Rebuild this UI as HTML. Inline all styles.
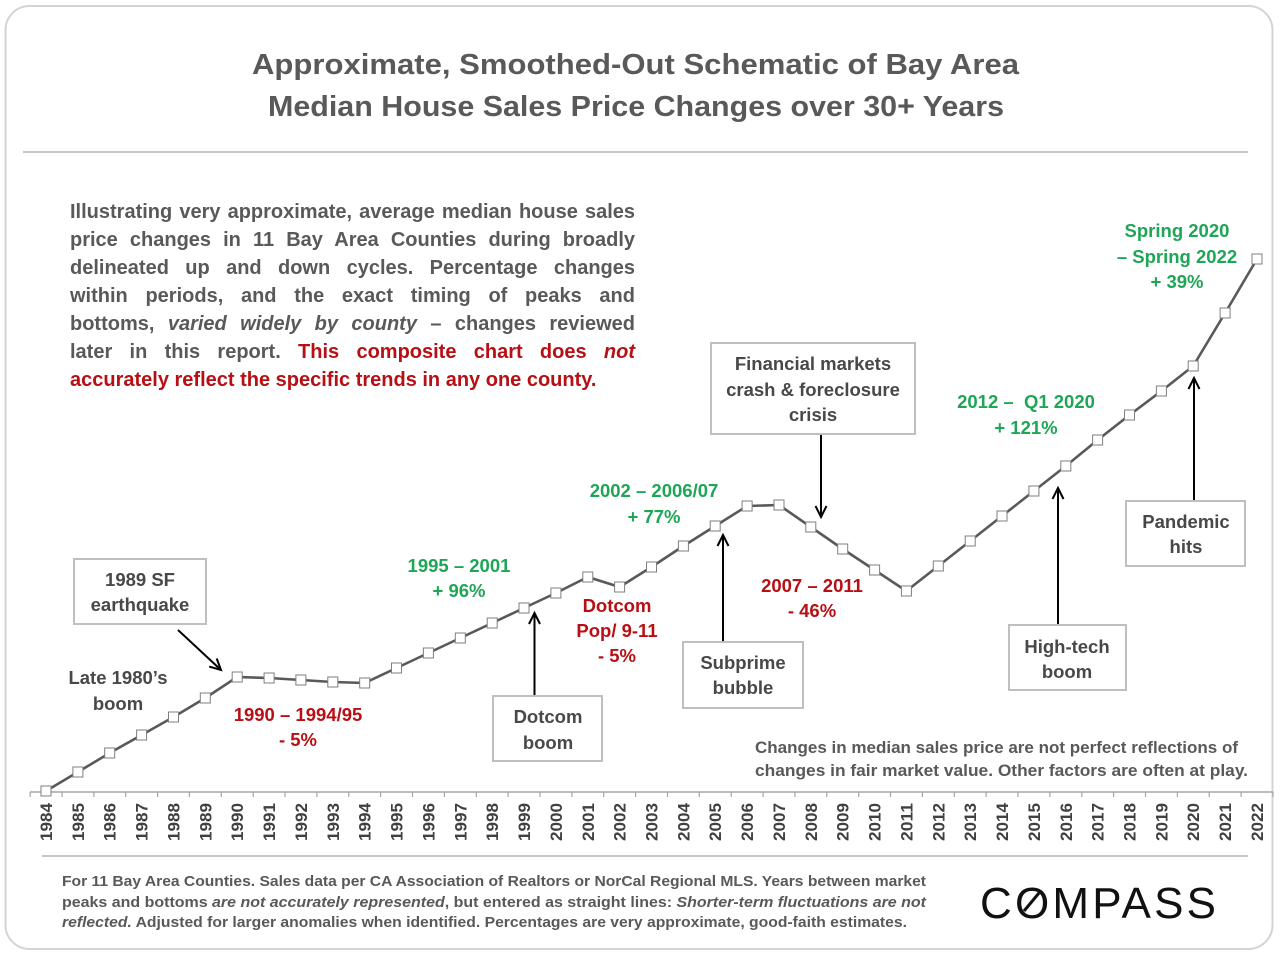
<!DOCTYPE html>
<html><head><meta charset="utf-8">
<style>
html,body{margin:0;padding:0;background:#fff;}
body{width:1280px;height:957px;position:relative;overflow:hidden;font-family:"Liberation Sans",Arial,sans-serif;}
svg{position:absolute;left:0;top:0;}
.para{position:absolute;left:70px;top:198px;width:565px;font-size:20px;line-height:28px;font-weight:bold;color:#595959;}
.para div{text-align:justify;text-align-last:justify;}
.para div.last{text-align:left;text-align-last:left;}
.red{color:#b80f14;}
</style></head>
<body>
<svg width="1280" height="957" viewBox="0 0 1280 957" xmlns="http://www.w3.org/2000/svg" font-family="Liberation Sans, Arial, sans-serif">
<defs>
<marker id="ah" markerUnits="userSpaceOnUse" markerWidth="14" markerHeight="14" refX="12" refY="6" orient="auto" overflow="visible">
<path d="M1,0.5 L12,6 L1,11.5" fill="none" stroke="#000" stroke-width="2"/>
</marker>
</defs>
<rect x="5.5" y="6" width="1267" height="943" rx="24" ry="24" fill="#fff" stroke="#d4d4d4" stroke-width="2"/>
<!-- title -->
<text x="635.5" y="74" text-anchor="middle" font-size="29" font-weight="bold" fill="#595959" textLength="767" lengthAdjust="spacingAndGlyphs">Approximate, Smoothed-Out Schematic of Bay Area</text>
<text x="636" y="116" text-anchor="middle" font-size="29" font-weight="bold" fill="#595959" textLength="736" lengthAdjust="spacingAndGlyphs">Median House Sales Price Changes over 30+ Years</text>
<line x1="23" y1="152" x2="1248" y2="152" stroke="#c8c8c8" stroke-width="2"/>

<!-- axis -->
<line x1="30" y1="792" x2="1273" y2="792" stroke="#a6a6a6" stroke-width="1.5"/>
<path d="M30.1 792v5M62 792v5M93.9 792v5M125.7 792v5M157.6 792v5M189.4 792v5M221.3 792v5M253.2 792v5M285 792v5M316.9 792v5M348.8 792v5M380.6 792v5M412.5 792v5M444.4 792v5M476.3 792v5M508.1 792v5M540 792v5M571.9 792v5M603.7 792v5M635.6 792v5M667.5 792v5M699.3 792v5M731.2 792v5M763.1 792v5M794.9 792v5M826.8 792v5M858.7 792v5M890.5 792v5M922.4 792v5M954.3 792v5M986.1 792v5M1018 792v5M1049.9 792v5M1081.8 792v5M1113.6 792v5M1145.5 792v5M1177.4 792v5M1209.2 792v5M1241.1 792v5M1273 792v5" stroke="#a6a6a6" stroke-width="1.2" fill="none"/>

<g font-size="17" font-weight="bold" fill="#404040" text-anchor="end">
<text transform="translate(52,803) rotate(-90)" textLength="38" lengthAdjust="spacingAndGlyphs">1984</text>
<text transform="translate(83.9,803) rotate(-90)" textLength="38" lengthAdjust="spacingAndGlyphs">1985</text>
<text transform="translate(115.7,803) rotate(-90)" textLength="38" lengthAdjust="spacingAndGlyphs">1986</text>
<text transform="translate(147.6,803) rotate(-90)" textLength="38" lengthAdjust="spacingAndGlyphs">1987</text>
<text transform="translate(179.5,803) rotate(-90)" textLength="38" lengthAdjust="spacingAndGlyphs">1988</text>
<text transform="translate(211.3,803) rotate(-90)" textLength="38" lengthAdjust="spacingAndGlyphs">1989</text>
<text transform="translate(243.2,803) rotate(-90)" textLength="38" lengthAdjust="spacingAndGlyphs">1990</text>
<text transform="translate(275.1,803) rotate(-90)" textLength="38" lengthAdjust="spacingAndGlyphs">1991</text>
<text transform="translate(306.9,803) rotate(-90)" textLength="38" lengthAdjust="spacingAndGlyphs">1992</text>
<text transform="translate(338.8,803) rotate(-90)" textLength="38" lengthAdjust="spacingAndGlyphs">1993</text>
<text transform="translate(370.7,803) rotate(-90)" textLength="38" lengthAdjust="spacingAndGlyphs">1994</text>
<text transform="translate(402.5,803) rotate(-90)" textLength="38" lengthAdjust="spacingAndGlyphs">1995</text>
<text transform="translate(434.4,803) rotate(-90)" textLength="38" lengthAdjust="spacingAndGlyphs">1996</text>
<text transform="translate(466.3,803) rotate(-90)" textLength="38" lengthAdjust="spacingAndGlyphs">1997</text>
<text transform="translate(498.2,803) rotate(-90)" textLength="38" lengthAdjust="spacingAndGlyphs">1998</text>
<text transform="translate(530,803) rotate(-90)" textLength="38" lengthAdjust="spacingAndGlyphs">1999</text>
<text transform="translate(561.9,803) rotate(-90)" textLength="38" lengthAdjust="spacingAndGlyphs">2000</text>
<text transform="translate(593.8,803) rotate(-90)" textLength="38" lengthAdjust="spacingAndGlyphs">2001</text>
<text transform="translate(625.6,803) rotate(-90)" textLength="38" lengthAdjust="spacingAndGlyphs">2002</text>
<text transform="translate(657.5,803) rotate(-90)" textLength="38" lengthAdjust="spacingAndGlyphs">2003</text>
<text transform="translate(689.4,803) rotate(-90)" textLength="38" lengthAdjust="spacingAndGlyphs">2004</text>
<text transform="translate(721.2,803) rotate(-90)" textLength="38" lengthAdjust="spacingAndGlyphs">2005</text>
<text transform="translate(753.1,803) rotate(-90)" textLength="38" lengthAdjust="spacingAndGlyphs">2006</text>
<text transform="translate(785,803) rotate(-90)" textLength="38" lengthAdjust="spacingAndGlyphs">2007</text>
<text transform="translate(816.8,803) rotate(-90)" textLength="38" lengthAdjust="spacingAndGlyphs">2008</text>
<text transform="translate(848.7,803) rotate(-90)" textLength="38" lengthAdjust="spacingAndGlyphs">2009</text>
<text transform="translate(880.6,803) rotate(-90)" textLength="38" lengthAdjust="spacingAndGlyphs">2010</text>
<text transform="translate(912.4,803) rotate(-90)" textLength="38" lengthAdjust="spacingAndGlyphs">2011</text>
<text transform="translate(944.3,803) rotate(-90)" textLength="38" lengthAdjust="spacingAndGlyphs">2012</text>
<text transform="translate(976.2,803) rotate(-90)" textLength="38" lengthAdjust="spacingAndGlyphs">2013</text>
<text transform="translate(1008,803) rotate(-90)" textLength="38" lengthAdjust="spacingAndGlyphs">2014</text>
<text transform="translate(1039.9,803) rotate(-90)" textLength="38" lengthAdjust="spacingAndGlyphs">2015</text>
<text transform="translate(1071.8,803) rotate(-90)" textLength="38" lengthAdjust="spacingAndGlyphs">2016</text>
<text transform="translate(1103.6,803) rotate(-90)" textLength="38" lengthAdjust="spacingAndGlyphs">2017</text>
<text transform="translate(1135.5,803) rotate(-90)" textLength="38" lengthAdjust="spacingAndGlyphs">2018</text>
<text transform="translate(1167.4,803) rotate(-90)" textLength="38" lengthAdjust="spacingAndGlyphs">2019</text>
<text transform="translate(1199.2,803) rotate(-90)" textLength="38" lengthAdjust="spacingAndGlyphs">2020</text>
<text transform="translate(1231.1,803) rotate(-90)" textLength="38" lengthAdjust="spacingAndGlyphs">2021</text>
<text transform="translate(1263,803) rotate(-90)" textLength="38" lengthAdjust="spacingAndGlyphs">2022</text>
</g>
<line x1="42" y1="856" x2="1248" y2="856" stroke="#c8c8c8" stroke-width="2"/>

<!-- series -->
<polyline fill="none" stroke="#595959" stroke-width="2.6" stroke-linejoin="round" points="46,791 77.9,772 109.7,753 141.6,735 173.5,717 205.3,698 237.2,677 269.1,678 300.9,680 332.8,682 364.7,683 396.5,668 428.4,653 460.3,638 492.2,623 524,608 555.9,593 587.8,577 619.6,587 651.5,567 683.4,546 715.2,526 747.1,506 779,505 810.8,527 842.7,549 874.6,570 906.4,591 938.3,566 970.2,541 1002,516 1033.9,491 1065.8,466 1097.6,440 1129.5,415 1161.4,391 1193.2,366 1225.1,313 1257,259"/>
<g fill="#fff" stroke="#7f7f7f" stroke-width="1">
<rect x="41" y="786" width="10" height="10"/>
<rect x="72.9" y="767" width="10" height="10"/>
<rect x="104.7" y="748" width="10" height="10"/>
<rect x="136.6" y="730" width="10" height="10"/>
<rect x="168.5" y="712" width="10" height="10"/>
<rect x="200.3" y="693" width="10" height="10"/>
<rect x="232.2" y="672" width="10" height="10"/>
<rect x="264.1" y="673" width="10" height="10"/>
<rect x="295.9" y="675" width="10" height="10"/>
<rect x="327.8" y="677" width="10" height="10"/>
<rect x="359.7" y="678" width="10" height="10"/>
<rect x="391.5" y="663" width="10" height="10"/>
<rect x="423.4" y="648" width="10" height="10"/>
<rect x="455.3" y="633" width="10" height="10"/>
<rect x="487.2" y="618" width="10" height="10"/>
<rect x="519" y="603" width="10" height="10"/>
<rect x="550.9" y="588" width="10" height="10"/>
<rect x="582.8" y="572" width="10" height="10"/>
<rect x="614.6" y="582" width="10" height="10"/>
<rect x="646.5" y="562" width="10" height="10"/>
<rect x="678.4" y="541" width="10" height="10"/>
<rect x="710.2" y="521" width="10" height="10"/>
<rect x="742.1" y="501" width="10" height="10"/>
<rect x="774" y="500" width="10" height="10"/>
<rect x="805.8" y="522" width="10" height="10"/>
<rect x="837.7" y="544" width="10" height="10"/>
<rect x="869.6" y="565" width="10" height="10"/>
<rect x="901.4" y="586" width="10" height="10"/>
<rect x="933.3" y="561" width="10" height="10"/>
<rect x="965.2" y="536" width="10" height="10"/>
<rect x="997" y="511" width="10" height="10"/>
<rect x="1028.9" y="486" width="10" height="10"/>
<rect x="1060.8" y="461" width="10" height="10"/>
<rect x="1092.6" y="435" width="10" height="10"/>
<rect x="1124.5" y="410" width="10" height="10"/>
<rect x="1156.4" y="386" width="10" height="10"/>
<rect x="1188.2" y="361" width="10" height="10"/>
<rect x="1220.1" y="308" width="10" height="10"/>
<rect x="1252" y="254" width="10" height="10"/>
</g>

<!-- arrows -->
<g stroke="#000" stroke-width="2" fill="none">
<line x1="178" y1="630" x2="221" y2="670" marker-end="url(#ah)"/>
<line x1="534.5" y1="696" x2="534.5" y2="613" marker-end="url(#ah)"/>
<line x1="723" y1="642" x2="723" y2="535" marker-end="url(#ah)"/>
<line x1="821" y1="434" x2="821" y2="517" marker-end="url(#ah)"/>
<line x1="1058" y1="625" x2="1058" y2="488" marker-end="url(#ah)"/>
<line x1="1194" y1="501" x2="1194" y2="378" marker-end="url(#ah)"/>
</g>

<!-- boxes -->
<g fill="#fff" stroke="#bfbfbf" stroke-width="2">
<rect x="74" y="559" width="132" height="65"/>
<rect x="493" y="696" width="109" height="65"/>
<rect x="683" y="642" width="120" height="66"/>
<rect x="711" y="343" width="204" height="91"/>
<rect x="1009" y="625" width="117" height="65"/>
<rect x="1126" y="501" width="119" height="65"/>
</g>

<!-- annotation texts -->
<g font-size="18.5" font-weight="bold" text-anchor="middle">
<g fill="#484848">
<text x="140" y="586">1989 SF</text>
<text x="140" y="611">earthquake</text>
<text x="118" y="684">Late 1980’s</text>
<text x="118" y="710">boom</text>
<text x="548" y="723">Dotcom</text>
<text x="548" y="749">boom</text>
<text x="743" y="669">Subprime</text>
<text x="743" y="694">bubble</text>
<text x="813" y="370">Financial markets</text>
<text x="813" y="396">crash &amp; foreclosure</text>
<text x="813" y="421">crisis</text>
<text x="1067" y="653">High-tech</text>
<text x="1067" y="678">boom</text>
<text x="1186" y="528">Pandemic</text>
<text x="1186" y="553">hits</text>
</g>
<g fill="#b80f14">
<text x="298" y="721">1990 – 1994/95</text>
<text x="298" y="746">- 5%</text>
<text x="617" y="612">Dotcom</text>
<text x="617" y="637">Pop/ 9-11</text>
<text x="617" y="662">- 5%</text>
<text x="812" y="592">2007 – 2011</text>
<text x="812" y="617">- 46%</text>
</g>
<g fill="#1ea656">
<text x="459" y="572">1995 – 2001</text>
<text x="459" y="597">+ 96%</text>
<text x="654" y="497">2002 – 2006/07</text>
<text x="654" y="523">+ 77%</text>
<text x="1026" y="408" xml:space="preserve">2012 –  Q1 2020</text>
<text x="1026" y="434">+ 121%</text>
<text x="1177" y="237">Spring 2020</text>
<text x="1177" y="263">– Spring 2022</text>
<text x="1177" y="288">+ 39%</text>
</g>
</g>

<!-- note -->
<g font-size="17" font-weight="bold" fill="#595959">
<text x="755" y="753" textLength="483" lengthAdjust="spacingAndGlyphs">Changes in median sales price are not perfect reflections of</text>
<text x="755" y="776" textLength="493" lengthAdjust="spacingAndGlyphs">changes in fair market value. Other factors are often at play.</text>
</g>

<!-- footer -->
<g font-size="15" font-weight="bold" fill="#595959">
<text x="62" y="886" textLength="864" lengthAdjust="spacingAndGlyphs">For 11 Bay Area Counties. Sales data per CA Association of Realtors or NorCal Regional MLS. Years between market</text>
<text x="62" y="907" textLength="864" lengthAdjust="spacingAndGlyphs">peaks and bottoms <tspan font-style="italic">are not accurately represented</tspan>, but entered as straight lines: <tspan font-style="italic">Shorter-term fluctuations are not</tspan></text>
<text x="62" y="927" textLength="845" lengthAdjust="spacingAndGlyphs"><tspan font-style="italic">reflected.</tspan> Adjusted for larger anomalies when identified. Percentages are very approximate, good-faith estimates.</text>
</g>

<!-- logo -->
<text x="980" y="918" font-size="44" fill="#111" textLength="236" lengthAdjust="spacing">COMPASS</text>
<line x1="1024" y1="911" x2="1039" y2="893" stroke="#111" stroke-width="3"/>
</svg>

<div class="para">
<div>Illustrating very approximate, average median house sales</div>
<div>price changes in 11 Bay Area Counties during broadly</div>
<div>delineated up and down cycles. Percentage changes</div>
<div>within periods, and the exact timing of peaks and</div>
<div>bottoms, <i>varied widely by county</i> – changes reviewed</div>
<div>later in this report. <span class="red">This composite chart does <i>not</i></span></div>
<div class="last red">accurately reflect the specific trends in any one county.</div>
</div>
</body></html>
